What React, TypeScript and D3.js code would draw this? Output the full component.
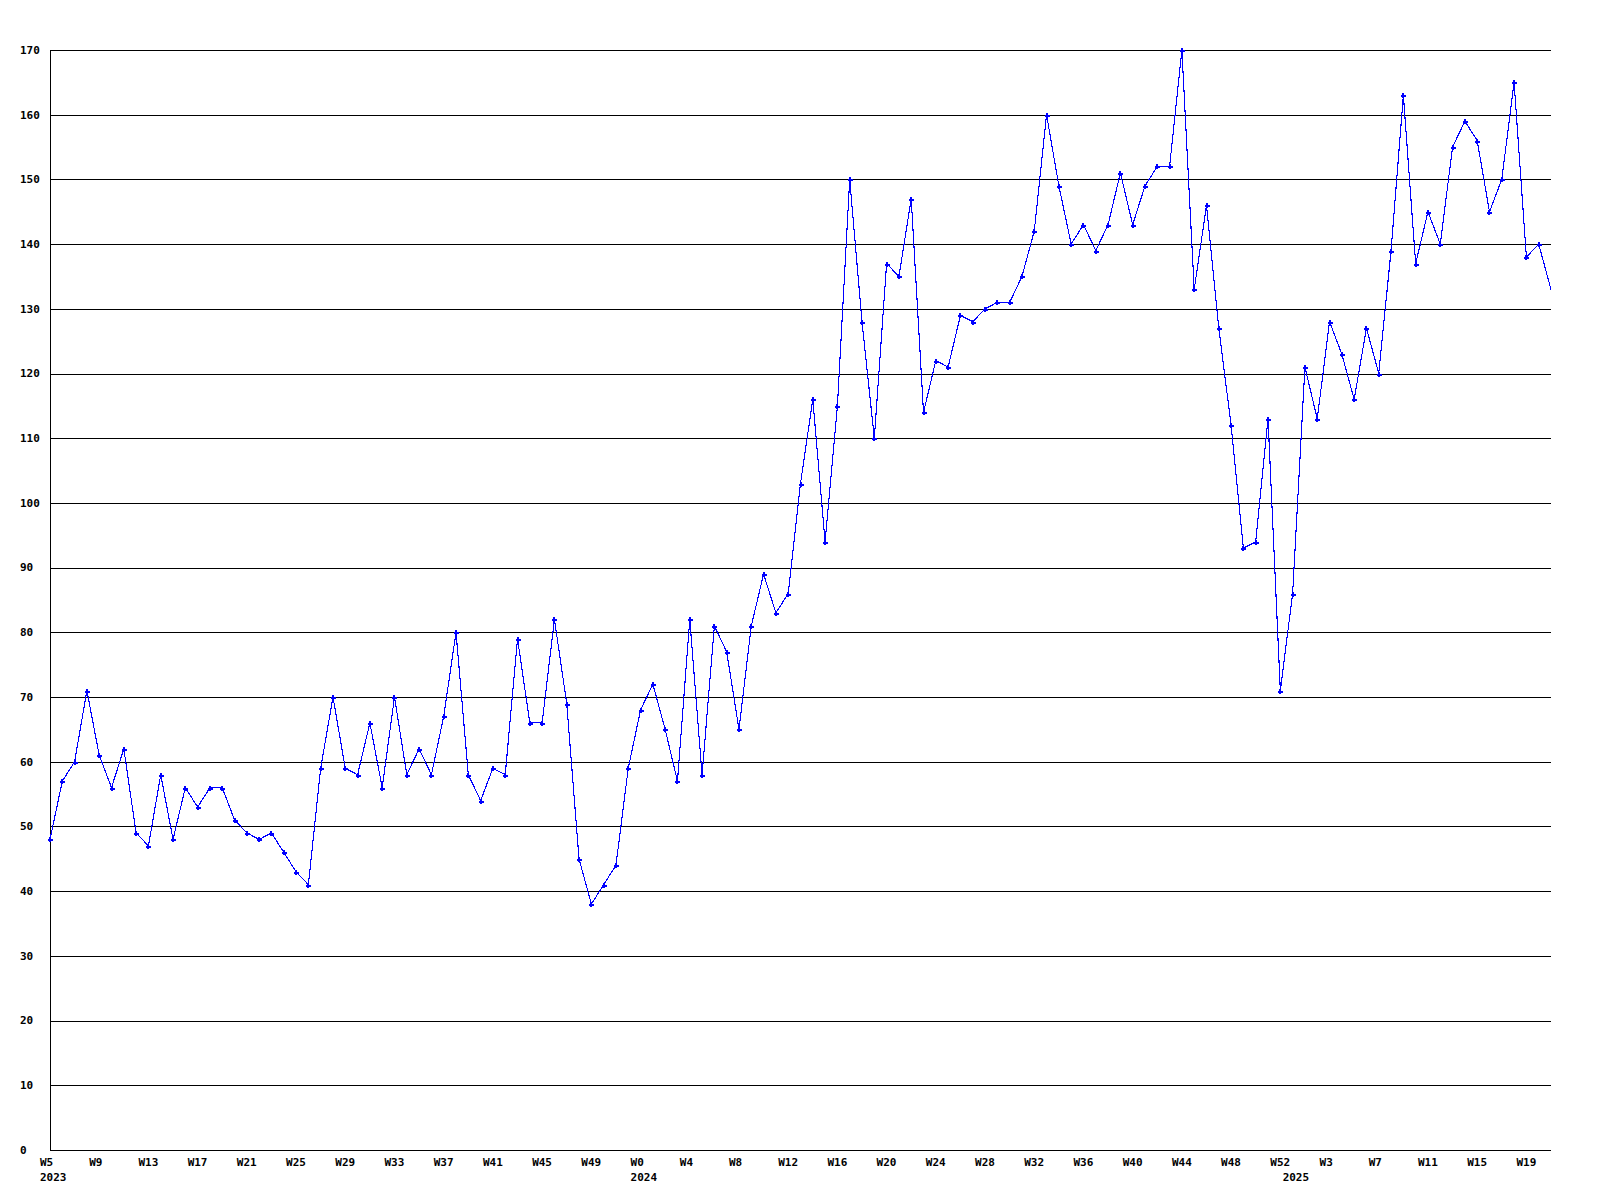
import React from "react";
import * as d3 from "d3";

const years = [2023, 2024, 2025];
const weeks2023 = d3.range(5, 53);
const weeks2024 = d3.range(0, 53);
const weeks2025 = d3.range(0, 22);

const values2023 = [48,57,60,71,61,56,62,49,47,58,48,56,53,56,56,51,49,48,49,46,43,41,59,70,59,58,66,56,70,58,62,58,67,80,58,54,59,58,79,66,66,82,69,45,38,41,44,59];
const values2024 = [68,72,65,57,82,58,81,77,65,81,89,83,86,103,116,94,115,150,128,110,137,135,147,114,122,121,129,128,130,131,131,135,142,160,149,140,143,139,143,151,143,149,152,152,170,133,146,127,112,93,94,113,71];
const values2025 = [86,121,113,128,123,116,127,120,139,163,137,145,140,155,159,156,145,150,165,138,140,133];

const yTicks = d3.range(0, 171, 10);
const tickEvery = 4;

type Pt = { year: number; week: number; value: number; first: boolean };

function buildPoints(): Pt[] {
  const out: Pt[] = [];
  const w = [weeks2023, weeks2024, weeks2025];
  const v = [values2023, values2024, values2025];
  years.forEach((yr, k) => {
    w[k].forEach((wk, i) => out.push({ year: yr, week: wk, value: v[k][i], first: i === 0 }));
  });
  return out;
}

export default function App() {
  const pts = buildPoints();
  const W = 1600, H = 1200;
  const left = 50, right = 1551, top = 50, bottom = 1150;
  const x = d3.scaleLinear().domain([0, pts.length - 1]).range([left, right]);
  const y = d3.scaleLinear().domain([0, 170]).range([bottom, top]);
  const line = d3.line<Pt>().x((_, i) => x(i)).y((d) => y(d.value));
  const font = "'DejaVu Sans Mono', monospace";

  const ticks = pts.map((p, i) => ({ i, p })).filter((d) => d.i % tickEvery === 0);
  const yearStarts = pts.map((p, i) => ({ i, p })).filter((d) => d.p.first);

  return (
    <svg width={W} height={H} style={{ position: "absolute", left: 0, top: 0, background: "#fff" }}>
      <rect x={0} y={0} width={W} height={H} fill="#fff" />
      {yTicks.map((t) => (
        <line key={"g" + t} x1={left} x2={right} y1={Math.round(y(t)) + 0.5} y2={Math.round(y(t)) + 0.5}
          stroke="#000" strokeWidth={1} shapeRendering="crispEdges" />
      ))}
      <line x1={left + 0.5} x2={left + 0.5} y1={top} y2={bottom + 1} stroke="#000" strokeWidth={1} shapeRendering="crispEdges" />
      {yTicks.map((t) => (
        <text key={"yl" + t} x={20} y={y(t)} dy="0.35em" fontFamily={font} fontWeight="bold" fontSize={11} fill="#000">
          {t}
        </text>
      ))}
      {ticks.map((t) => (
        <text key={"xt" + t.i} x={x(t.i) - 10} y={1162} dy="0.35em" fontFamily={font} fontWeight="bold" fontSize={11} fill="#000">
          {"W" + t.p.week}
        </text>
      ))}
      {yearStarts.map((t) => (
        <text key={"yr" + t.i} x={x(t.i) - 10} y={1177} dy="0.35em" fontFamily={font} fontWeight="bold" fontSize={11} fill="#000">
          {t.p.year}
        </text>
      ))}
      <path d={line(pts) || ""} fill="none" stroke="#0000ff" strokeWidth={1.1} shapeRendering="optimizeSpeed" />
      {pts.slice(0, pts.length - 1).map((p, i) => {
        const cx = Math.round(x(i));
        const cy = Math.round(y(p.value));
        return (
          <path key={"m" + i} d={`M${cx - 2.5},${cy + 0.5}H${cx + 2.5}M${cx},${cy - 2}V${cy + 3}`}
            stroke="#0000ff" strokeWidth={2} fill="none" shapeRendering="crispEdges" />
        );
      })}
    </svg>
  );
}
